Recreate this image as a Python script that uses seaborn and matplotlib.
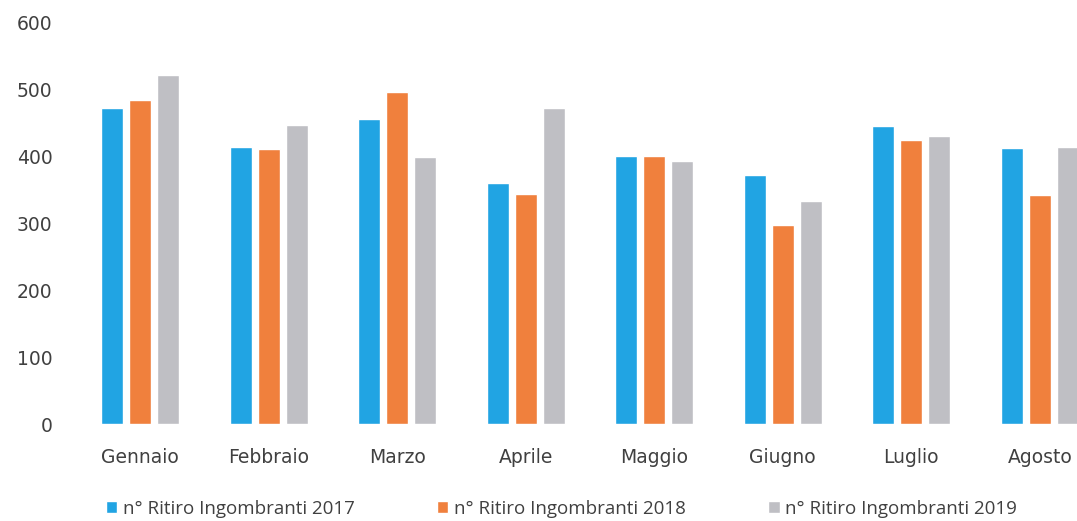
import matplotlib
matplotlib.use("Agg")
import matplotlib.pyplot as plt
import seaborn as sns
import pandas as pd

months = ["Gennaio", "Febbraio", "Marzo", "Aprile", "Maggio", "Giugno", "Luglio", "Agosto"]
series_names = ["n° Ritiro Ingombranti 2017", "n° Ritiro Ingombranti 2018", "n° Ritiro Ingombranti 2019"]
v2017 = [472, 414, 456, 361, 400, 372, 446, 413]
v2018 = [485, 411, 496, 344, 400, 298, 425, 342]
v2019 = [522, 447, 399, 472, 393, 333, 430, 414]
colors = ["#21A4E3", "#F0803D", "#BFBFC4"]
yticks = [0, 100, 200, 300, 400, 500, 600]

rows = []
for name, vals in zip(series_names, [v2017, v2018, v2019]):
    for m, v in zip(months, vals):
        rows.append({"Mese": m, "Serie": name, "Valore": v})
df = pd.DataFrame(rows)

sns.set_style("white")
plt.rcParams["font.family"] = ["DejaVu Sans"]

fig = plt.figure(figsize=(10.77, 5.21), dpi=100)
ax = fig.add_axes([76 / 1077, 1 - 424 / 521, 1 - 76 / 1077, (424 - 22.7) / 521])
sns.barplot(data=df, x="Mese", y="Valore", hue="Serie", order=months,
            hue_order=series_names, palette=colors, width=0.655, gap=0.21,
            saturation=1, ax=ax, legend=True)
ax.set_ylim(0, 600)
ax.set_xlim(-0.5, 7.29)
ax.set_yticks(yticks)
ax.set_yticklabels([str(t) for t in yticks], fontsize=13.5, color="#404040")
ax.tick_params(axis="x", labelsize=13.5, colors="#404040", length=0, pad=17)
ax.tick_params(axis="y", length=0, pad=17)
ax.set_xlabel("")
ax.set_ylabel("")
for s in ax.spines.values():
    s.set_visible(False)
ax.grid(False)

leg = ax.legend(loc="upper center", bbox_to_anchor=(0.485, -0.156), ncol=3, frameon=False,
                prop={"family": "Open Sans", "size": 13.5}, handlelength=0.6,
                handleheight=0.6, handletextpad=0.3, columnspacing=4.4,
                labelcolor="#404040", borderpad=0.2)
fig.savefig("out.png", dpi=100, facecolor="white")
